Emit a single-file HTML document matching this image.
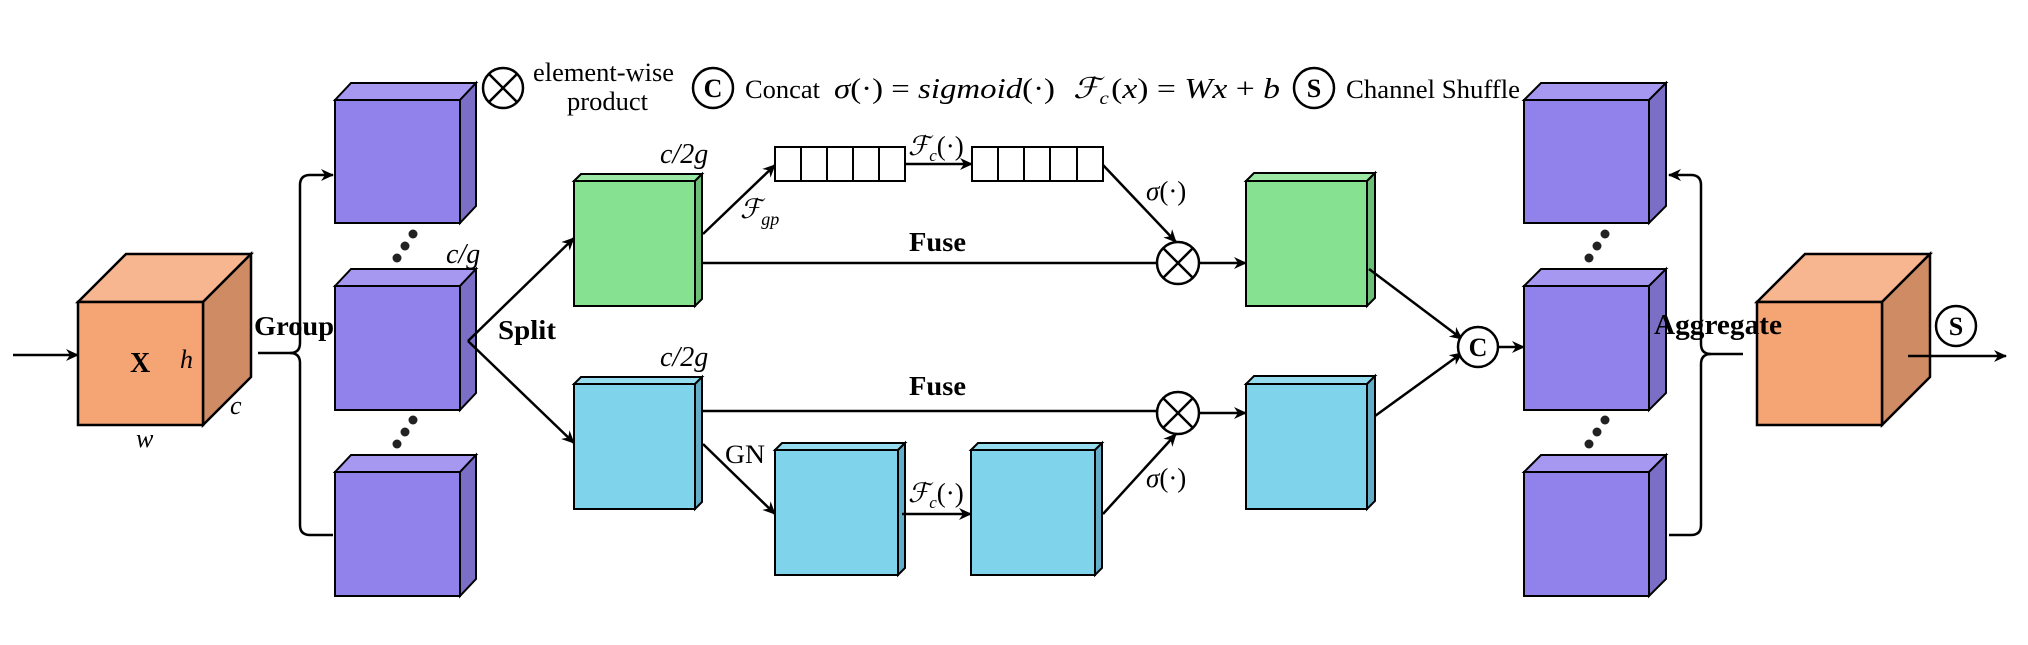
<!DOCTYPE html>
<html><head><meta charset="utf-8"><style>
html,body{margin:0;padding:0;background:#fff;}
svg{display:block;}
text{font-family:"Liberation Serif",serif;fill:#000;}
.b{font-weight:bold;}
.i{font-style:italic;}
</style></head><body>
<svg width="2028" height="645" viewBox="0 0 2028 645" xmlns="http://www.w3.org/2000/svg">
<defs>
<marker id="a" markerWidth="14" markerHeight="12" refX="12" refY="6" orient="auto" markerUnits="userSpaceOnUse">
<path d="M0,0 L13,6 L0,12 L4,6 z" fill="#000"/>
</marker>
</defs>
<g stroke="#000" stroke-width="2.5" stroke-linejoin="miter">
<polygon points="78,302 126,254 251,254 203,302" fill="#f8b690"/>
<polygon points="203,302 251,254 251,377 203,425" fill="#cf8c64"/>
<rect x="78" y="302" width="125" height="123" fill="#f5a474"/>
<g stroke-width="2">
<polygon points="335,100 351,83 476,83 460,100" fill="#a698f1"/>
<polygon points="460,100 476,83 476,206 460,223" fill="#7b6ec7"/>
<rect x="335" y="100" width="125" height="123" fill="#9181ea"/>
<polygon points="335,286 351,269 476,269 460,286" fill="#a698f1"/>
<polygon points="460,286 476,269 476,393 460,410" fill="#7b6ec7"/>
<rect x="335" y="286" width="125" height="124" fill="#9181ea"/>
<polygon points="335,472 351,455 476,455 460,472" fill="#a698f1"/>
<polygon points="460,472 476,455 476,579 460,596" fill="#7b6ec7"/>
<rect x="335" y="472" width="125" height="124" fill="#9181ea"/>
<polygon points="1524,100 1541,83 1666,83 1649,100" fill="#a698f1"/>
<polygon points="1649,100 1666,83 1666,206 1649,223" fill="#7b6ec7"/>
<rect x="1524" y="100" width="125" height="123" fill="#9181ea"/>
<polygon points="1524,286 1541,269 1666,269 1649,286" fill="#a698f1"/>
<polygon points="1649,286 1666,269 1666,393 1649,410" fill="#7b6ec7"/>
<rect x="1524" y="286" width="125" height="124" fill="#9181ea"/>
<polygon points="1524,472 1541,455 1666,455 1649,472" fill="#a698f1"/>
<polygon points="1649,472 1666,455 1666,579 1649,596" fill="#7b6ec7"/>
<rect x="1524" y="472" width="125" height="124" fill="#9181ea"/>
<polygon points="574,181 581,174 702,174 695,181" fill="#9ae8a4"/>
<polygon points="695,181 702,174 702,299 695,306" fill="#6cbf77"/>
<rect x="574" y="181" width="121" height="125" fill="#86e191"/>
<polygon points="574,384 581,377 702,377 695,384" fill="#95dcef"/>
<polygon points="695,384 702,377 702,502 695,509" fill="#62aec8"/>
<rect x="574" y="384" width="121" height="125" fill="#7fd3eb"/>
<polygon points="1246,181 1254,173 1375,173 1367,181" fill="#9ae8a4"/>
<polygon points="1367,181 1375,173 1375,298 1367,306" fill="#6cbf77"/>
<rect x="1246" y="181" width="121" height="125" fill="#86e191"/>
<polygon points="1246,384 1254,376 1375,376 1367,384" fill="#95dcef"/>
<polygon points="1367,384 1375,376 1375,501 1367,509" fill="#62aec8"/>
<rect x="1246" y="384" width="121" height="125" fill="#7fd3eb"/>
<polygon points="775,450 782,443 905,443 898,450" fill="#95dcef"/>
<polygon points="898,450 905,443 905,568 898,575" fill="#62aec8"/>
<rect x="775" y="450" width="123" height="125" fill="#7fd3eb"/>
<polygon points="971,450 978,443 1102,443 1095,450" fill="#95dcef"/>
<polygon points="1095,450 1102,443 1102,568 1095,575" fill="#62aec8"/>
<rect x="971" y="450" width="124" height="125" fill="#7fd3eb"/>
</g>
<polygon points="1757,302 1805,254 1930,254 1882,302" fill="#f8b690"/>
<polygon points="1882,302 1930,254 1930,377 1882,425" fill="#cf8c64"/>
<rect x="1757" y="302" width="125" height="123" fill="#f5a474"/>

<g fill="#fff" stroke-width="2">
<rect x="775" y="147" width="130" height="34"/>
<line x1="801" y1="147" x2="801" y2="181"/><line x1="827" y1="147" x2="827" y2="181"/><line x1="853" y1="147" x2="853" y2="181"/><line x1="879" y1="147" x2="879" y2="181"/>
<rect x="972" y="147" width="131" height="34"/>
<line x1="998" y1="147" x2="998" y2="181"/><line x1="1024" y1="147" x2="1024" y2="181"/><line x1="1050" y1="147" x2="1050" y2="181"/><line x1="1077" y1="147" x2="1077" y2="181"/>
</g>

<g fill="none" stroke-width="2.5">
<line x1="13" y1="355" x2="78" y2="355" marker-end="url(#a)"/>
<line x1="258" y1="353" x2="290" y2="353"/>
<path d="M290,353 Q300,353 300,343 L300,185 Q300,175 310,175 L333,175" marker-end="url(#a)"/>
<path d="M290,353 Q300,353 300,363 L300,525 Q300,535 310,535 L333,535"/>
<path d="M1743,354 L1711,354 Q1701,354 1701,344 L1701,185 Q1701,175 1691,175 L1669,175" marker-end="url(#a)"/>
<path d="M1711,354 Q1701,354 1701,364 L1701,525 Q1701,535 1691,535 L1669,535"/>
<line x1="468" y1="341" x2="574" y2="238" marker-end="url(#a)"/>
<line x1="468" y1="341" x2="574" y2="443" marker-end="url(#a)"/>
<line x1="703" y1="234" x2="775" y2="165" marker-end="url(#a)"/>
<line x1="905" y1="164" x2="972" y2="164" marker-end="url(#a)"/>
<line x1="1103" y1="165" x2="1176" y2="242" marker-end="url(#a)"/>
<line x1="703" y1="263" x2="1157" y2="263"/>
<line x1="1199" y1="263" x2="1246" y2="263" marker-end="url(#a)"/>
<line x1="702" y1="411" x2="1157" y2="411"/>
<line x1="1199" y1="413" x2="1246" y2="413" marker-end="url(#a)"/>
<line x1="703" y1="444" x2="775" y2="514" marker-end="url(#a)"/>
<line x1="902" y1="514" x2="971" y2="514" marker-end="url(#a)"/>
<line x1="1103" y1="514" x2="1176" y2="434" marker-end="url(#a)"/>
<line x1="1369" y1="269" x2="1462" y2="339" marker-end="url(#a)"/>
<line x1="1375" y1="416" x2="1462" y2="353" marker-end="url(#a)"/>
<line x1="1499" y1="347" x2="1524" y2="347" marker-end="url(#a)"/>
<line x1="1908" y1="356" x2="2006" y2="356" marker-end="url(#a)"/>
</g>

<g fill="#fff" stroke-width="2.5">
<circle cx="1178" cy="263" r="21"/>
<path d="M1163,248 L1193,278 M1193,248 L1163,278" fill="none"/>
<circle cx="1178" cy="413" r="21"/>
<path d="M1163,398 L1193,428 M1193,398 L1163,428" fill="none"/>
<circle cx="503" cy="88" r="20"/>
<path d="M489,74 L517,102 M517,74 L489,102" fill="none"/>
<circle cx="713" cy="88" r="20"/>
<circle cx="1314" cy="88" r="20"/>
<circle cx="1478" cy="347" r="20"/>
<circle cx="1956" cy="326" r="20"/>
</g>
</g>

<g fill="#222">
<circle cx="413" cy="234" r="4.5"/><circle cx="405" cy="246" r="4.5"/><circle cx="397" cy="258" r="4.5"/>
<circle cx="413" cy="420" r="4.5"/><circle cx="405" cy="432" r="4.5"/><circle cx="397" cy="444" r="4.5"/>
<circle cx="1605" cy="234" r="4.5"/><circle cx="1597" cy="246" r="4.5"/><circle cx="1589" cy="258" r="4.5"/>
<circle cx="1605" cy="420" r="4.5"/><circle cx="1597" cy="432" r="4.5"/><circle cx="1589" cy="444" r="4.5"/>
</g>

<text x="130" y="372" class="b" font-size="28">X</text>
<text x="180" y="368" class="i" font-size="26">h</text>
<text x="230" y="414" class="i" font-size="26">c</text>
<text x="136" y="447" class="i" font-size="26">w</text>
<text x="254" y="335" class="b" font-size="27" textLength="80" lengthAdjust="spacingAndGlyphs">Group</text>
<text x="498" y="339" class="b" font-size="27" textLength="58" lengthAdjust="spacingAndGlyphs">Split</text>
<text x="1654" y="334" class="b" font-size="28" textLength="128" lengthAdjust="spacingAndGlyphs">Aggregate</text>
<text x="446" y="263" class="i" font-size="28">c/g</text>
<text x="660" y="163" class="i" font-size="28">c/2g</text>
<text x="660" y="366" class="i" font-size="28">c/2g</text>
<text x="740" y="218" class="i" font-size="27">ℱ<tspan font-size="18" dy="7">gp</tspan></text>
<text x="908" y="155" class="i" font-size="27">ℱ<tspan font-size="17" dy="6">c</tspan><tspan dy="-6" font-style="normal">(·)</tspan></text>
<text x="908" y="502" class="i" font-size="27">ℱ<tspan font-size="17" dy="6">c</tspan><tspan dy="-6" font-style="normal">(·)</tspan></text>
<text x="1146" y="200" class="i" font-size="27">σ<tspan font-style="normal">(·)</tspan></text>
<text x="1146" y="487" class="i" font-size="27">σ<tspan font-style="normal">(·)</tspan></text>
<text x="909" y="251" class="b" font-size="27" textLength="57" lengthAdjust="spacingAndGlyphs">Fuse</text>
<text x="909" y="395" class="b" font-size="27" textLength="57" lengthAdjust="spacingAndGlyphs">Fuse</text>
<text x="725" y="463" font-size="26" textLength="40" lengthAdjust="spacingAndGlyphs">GN</text>
<text x="533" y="81" font-size="26" textLength="141" lengthAdjust="spacingAndGlyphs">element-wise</text>
<text x="567" y="110" font-size="26" textLength="81" lengthAdjust="spacingAndGlyphs">product</text>
<text x="713" y="97" class="b" font-size="26" text-anchor="middle">C</text>
<text x="745" y="98" font-size="26" textLength="75" lengthAdjust="spacingAndGlyphs">Concat</text>
<text x="834" y="98" class="i" font-size="29" textLength="221" lengthAdjust="spacingAndGlyphs">σ<tspan font-style="normal">(·) = </tspan>sigmoid<tspan font-style="normal">(·)</tspan></text>
<text x="1073" y="98" class="i" font-size="29" textLength="207" lengthAdjust="spacingAndGlyphs">ℱ<tspan font-size="18" dy="6">c</tspan><tspan dy="-6" font-style="normal" dx="2">(</tspan>x<tspan font-style="normal">) = </tspan>Wx<tspan font-style="normal"> + </tspan>b</text>
<text x="1314" y="97" class="b" font-size="26" text-anchor="middle">S</text>
<text x="1346" y="98" font-size="26" textLength="174" lengthAdjust="spacingAndGlyphs">Channel Shuffle</text>
<text x="1478" y="356" class="b" font-size="26" text-anchor="middle">C</text>
<text x="1956" y="335" class="b" font-size="26" text-anchor="middle">S</text>
</svg>
</body></html>
